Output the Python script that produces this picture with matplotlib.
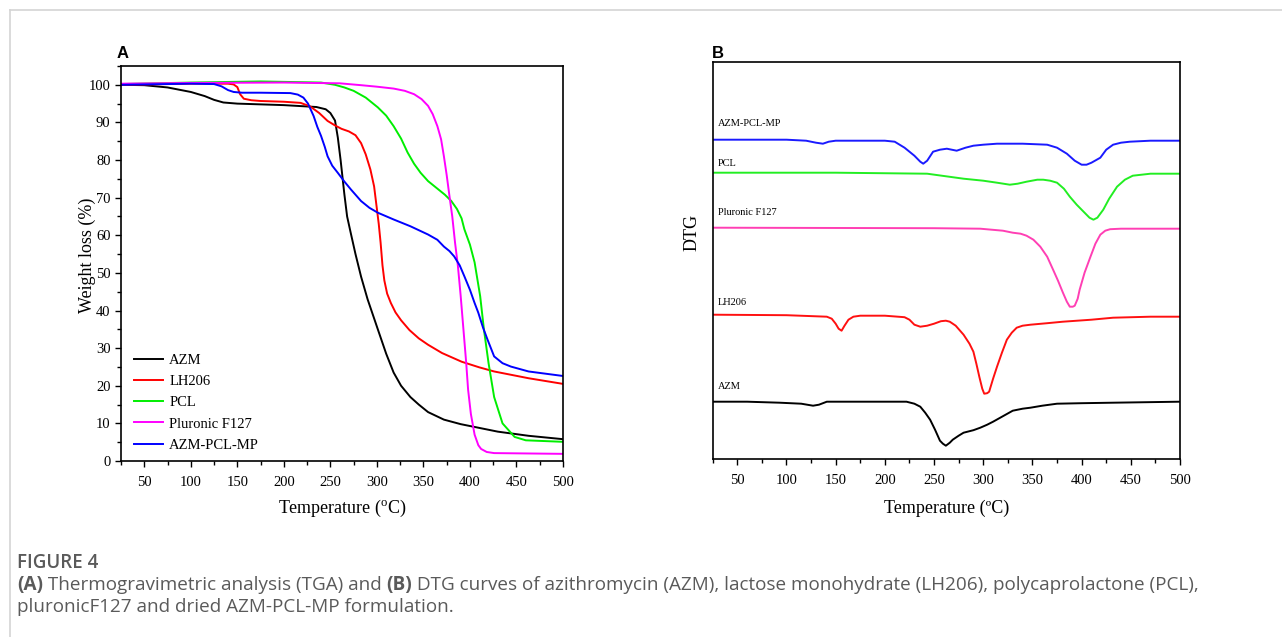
import numpy as np
import matplotlib
matplotlib.use("Agg")
import matplotlib.pyplot as plt
from matplotlib.lines import Line2D
from matplotlib.ticker import MultipleLocator, NullLocator

plt.rcParams['font.family'] = 'Liberation Serif'
plt.rcParams['mathtext.fontset'] = 'custom'
plt.rcParams['mathtext.rm'] = 'Liberation Serif'
plt.rcParams['mathtext.it'] = 'Liberation Serif:italic'

# --- TGA data (panel A): temperature (C) and weight (%) ---
azm_t = [25, 50, 75, 100, 115, 125, 135, 150, 200, 235, 245, 250, 255, 258, 261, 265, 268, 272, 277, 283,
         290, 301, 310, 318, 326, 336, 345, 355, 372, 390, 410, 430, 463, 500]
azm_w = [100, 99.9, 99.3, 98.1, 97.0, 96.0, 95.3, 95.0, 94.6, 94.1, 93.5, 92.5, 90.5, 86, 80, 71, 65, 60.5, 55, 49,
         43, 35, 28.5, 23.5, 20, 17, 15, 13, 11, 9.8, 8.8, 7.8, 6.7, 5.8]

lh_t = [25, 100, 140, 146, 150, 153, 157, 165, 175, 200, 218, 228, 238, 247, 255, 262, 270, 277, 283, 288,
        293, 297, 300, 302, 304, 306, 308, 311, 315, 320, 326, 335, 345, 355, 370, 391, 410, 426, 463, 500]
lh_w = [100, 100.3, 100.3, 100.1, 99.4, 97.5, 96.3, 95.9, 95.7, 95.5, 95.2, 94.3, 92.5, 90.4, 89.2, 88.3, 87.6, 86.6, 84.5, 81.5,
        77.5, 73, 67, 63, 58, 52, 48, 44.5, 42, 39.5, 37.4, 34.8, 32.6, 30.9, 28.7, 26.4, 24.9, 23.8, 22, 20.5]

pcl_t = [25, 100, 175, 240, 255, 265, 275, 288, 301, 310, 318, 326, 333, 340, 347, 355, 365, 373, 380, 386,
         391, 394, 400, 405, 411, 415, 420, 426, 435, 448, 460, 500]
pcl_w = [100.2, 100.6, 100.9, 100.6, 100, 99.3, 98.4, 96.6, 94, 91.8, 89, 85.7, 82, 79, 76.6, 74.4, 72.4, 70.8, 69.1, 67.0,
         64.5, 61.6, 57.5, 52.8, 43.8, 35, 26, 17, 10, 6.4, 5.5, 5.1]

f127_t = [25, 100, 200, 260, 283, 300, 318, 330, 340, 348, 355, 360, 365, 369, 372, 375, 378, 381, 384, 387,
          390, 393, 396, 398, 401, 405, 409, 412, 418, 426, 500]
f127_w = [100.3, 100.5, 100.6, 100.4, 99.9, 99.5, 99, 98.4, 97.5, 96.2, 94.4, 92.2, 89, 85.5, 81, 76, 70.4, 65, 58, 52,
          44, 35, 26, 19, 12.5, 7, 4.2, 3.2, 2.4, 2.1, 1.9]

mp_t = [25, 100, 125, 133, 140, 146, 155, 175, 207, 215, 221, 226, 232, 236, 240, 244, 247, 252, 258, 265,
        272, 283, 292, 301, 318, 336, 355, 365, 372, 378, 383, 389, 394, 400, 405, 409, 414, 419, 426, 435,
        444, 463, 500]
mp_w = [100, 100.3, 100.2, 99.6, 98.6, 98.1, 97.9, 97.9, 97.8, 97.4, 96.6, 95, 91.7, 88.8, 86.4, 83.5, 81, 78.5, 76.6, 74.3,
        72.2, 69.1, 67.3, 66, 64.2, 62.4, 60.2, 58.8, 57, 55.8, 54.4, 52.0, 49.1, 45.5, 42, 39.4, 35.5, 32.2, 27.8, 26,
        25.1, 23.8, 22.6]

tga_labels = ["AZM", "LH206", "PCL", "Pluronic F127", "AZM-PCL-MP"]

# --- DTG data (panel B): stacked curves, arbitrary units ---
dtg_mp_t = [25, 100, 120, 130, 137, 143, 150, 200, 210, 220, 230, 236, 239, 243, 249, 256, 263, 268, 273, 282,
            290, 300, 314, 340, 365, 375, 385, 393, 400, 405, 410, 419, 425, 432, 440, 449, 470, 500]
dtg_mp_v = [319, 319, 318, 316, 315, 317, 318, 318, 317, 311, 303, 297, 295, 298, 307, 309, 310, 309, 308, 311,
            313, 314, 315, 315, 314, 311, 305, 298, 294, 294, 296, 301, 309, 314, 316, 317, 318, 318]

dtg_pcl_t = [25, 150, 243, 280, 300, 314, 327, 335, 344, 355, 361, 368, 375, 382, 388, 395, 402, 408, 412, 416,
             422, 428, 436, 444, 452, 470, 500]
dtg_pcl_v = [286, 286, 285, 280, 278, 276, 274, 275, 277, 279, 279, 278, 276, 270, 262, 254, 247, 241, 239, 241,
             249, 260, 272, 279, 283, 285, 285]

dtg_f127_t = [25, 250, 297, 320, 330, 338, 344, 351, 358, 365, 371, 376, 381, 385, 388, 391, 393, 396, 398, 403,
              409, 414, 419, 424, 429, 440, 500]
dtg_f127_v = [231, 230.5, 230, 228, 226, 225, 223, 219, 212, 202, 189, 178, 166, 157, 152, 152, 153, 160, 169, 186,
              202, 215, 224, 228, 229.5, 230, 230]

dtg_lh_t = [25, 100, 141, 146, 150, 153, 156, 159, 163, 168, 175, 200, 220, 225, 230, 236, 243, 250, 257, 262,
            266, 272, 280, 286, 290, 293, 296, 299, 301, 304, 306, 310, 314, 319, 324, 329, 334, 340, 348, 365,
            381, 410, 432, 470, 500]
dtg_lh_v = [144, 143.5, 142, 140, 135, 130, 128, 133, 139, 142, 143, 143, 141.5, 139, 134, 132, 133, 135, 137.5, 138,
            137, 133, 124, 115, 107, 95, 82, 70, 65, 65.5, 67, 80, 92, 106, 119, 126, 131, 133, 134, 135.5,
            137, 139, 141, 142, 142]

dtg_azm_t = [25, 60, 93, 115, 127, 133, 141, 180, 222, 230, 236, 241, 246, 251, 256, 259, 262, 266, 269, 275,
             280, 290, 297, 304, 310, 320, 330, 340, 348, 360, 375, 400, 432, 500]
dtg_azm_v = [57, 57, 56, 55, 53, 54, 57, 57, 57, 55, 52, 46, 39, 29, 18, 15, 13, 16, 19, 23,
             26, 28.5, 31, 34, 37, 42.5, 48, 50, 51, 53, 55, 55.5, 56, 57]

dtg_labels = ["AZM-PCL-MP", "PCL", "Pluronic F127", "LH206", "AZM"]
dtg_label_y = [335, 295, 246, 156, 72]

fig = plt.figure(figsize=(12.82, 6.37), dpi=100)

# card border (top and left edges)
fig.add_artist(Line2D([9.5 / 1282, 1], [1 - 10 / 637] * 2, color="#d4d4d4", lw=1.2))
fig.add_artist(Line2D([9.5 / 1282] * 2, [0, 1 - 10 / 637], color="#d4d4d4", lw=1.2))

# ---------------- Panel A ----------------
axA = fig.add_axes([121 / 1282, 1 - 461 / 637, 442 / 1282, 395 / 637])
tga = [(azm_t, azm_w, "black"), (lh_t, lh_w, "#ff0000"), (pcl_t, pcl_w, "#00ee00"),
       (f127_t, f127_w, "#ff00ff"), (mp_t, mp_w, "#0000ff")]
for (t, w, c), lab in zip(tga, tga_labels):
    axA.plot(t, w, color=c, lw=1.4, label=lab, solid_joinstyle="round")
axA.set_xlim(25, 500)
axA.set_ylim(0, 105)
axA.set_xticks(np.arange(50, 501, 50))
axA.xaxis.set_minor_locator(MultipleLocator(25))
axA.yaxis.set_major_locator(MultipleLocator(10))
axA.yaxis.set_minor_locator(MultipleLocator(5))
axA.tick_params(which="both", direction="out", top=False, right=False, labelsize=10.5, width=1)
axA.tick_params(which="major", length=4)
axA.tick_params(which="minor", length=3)
axA.tick_params(axis="x", which="major", pad=7)
axA.set_xlabel("Temperature ($^{\\rm o}$C)", fontsize=13, labelpad=6)
axA.set_ylabel("Weight loss (%)", fontsize=13)
axA.yaxis.set_label_coords(-0.057, 0.52)
for s in axA.spines.values():
    s.set_linewidth(1.2)
axA.legend(loc="lower left", bbox_to_anchor=(0.0, -0.01), frameon=False, fontsize=10.5,
           handlelength=2.0, handletextpad=0.4, labelspacing=0.55)
fig.text(117 / 1282, 1 - 53 / 637, "A", family="Liberation Sans", weight="bold", fontsize=12, va="center")

# ---------------- Panel B ----------------
axB = fig.add_axes([712.7 / 1282, 1 - 458.7 / 637, 467.3 / 1282, 397 / 637])
dtg = [(dtg_mp_t, dtg_mp_v, "#1a1aff"), (dtg_pcl_t, dtg_pcl_v, "#22ee22"),
       (dtg_f127_t, dtg_f127_v, "#ff3fb4"), (dtg_lh_t, dtg_lh_v, "#ff1010"),
       (dtg_azm_t, dtg_azm_v, "black")]
for (t, v, c), lab, ly in zip(dtg, dtg_labels, dtg_label_y):
    axB.plot(t, v, color=c, lw=1.4, solid_joinstyle="round")
    axB.text(30, ly, lab, fontsize=7.5, va="center", ha="left")
axB.set_xlim(25, 500)
axB.set_ylim(0, 397)
axB.set_xticks(np.arange(50, 501, 50))
axB.xaxis.set_minor_locator(MultipleLocator(25))
axB.yaxis.set_major_locator(NullLocator())
axB.tick_params(which="both", direction="out", top=False, right=False, labelsize=10.5, width=1)
axB.tick_params(which="major", length=4)
axB.tick_params(which="minor", length=3)
axB.tick_params(axis="x", which="major", pad=7)
axB.set_xlabel("Temperature (ºC)", fontsize=13, labelpad=9)
axB.set_ylabel("DTG", fontsize=13)
axB.yaxis.set_label_coords(-0.027, 0.571)
for s in axB.spines.values():
    s.set_linewidth(1.2)
fig.text(712 / 1282, 1 - 53 / 637, "B", family="Liberation Sans", weight="bold", fontsize=12, va="center")

# ---------------- Caption ----------------
cap_col = "#5a5a5a"
cap_font = "Open Sans"
fig.text(17 / 1282, 1 - 563 / 637, "FIGURE 4", family=cap_font, weight="semibold", fontsize=13.5,
         color=cap_col, va="center")

fig.canvas.draw()
renderer = fig.canvas.get_renderer()


def runs(pieces, x0, y):
    x = x0
    for txt, wt in pieces:
        t = fig.text(x, y, txt, family=cap_font, weight=wt, fontsize=13.6, color=cap_col, va="center")
        bb = t.get_window_extent(renderer)
        x += bb.width / fig.bbox.width


runs([("(A)", "bold"), (" Thermogravimetric analysis (TGA) and ", "normal"), ("(B)", "bold"),
      (" DTG curves of azithromycin (AZM), lactose monohydrate (LH206), polycaprolactone (PCL),", "normal")],
     17 / 1282, 1 - 585 / 637)
runs([("pluronicF127 and dried AZM-PCL-MP formulation.", "normal")], 17 / 1282, 1 - 607 / 637)

fig.savefig("out.png", dpi=100)
